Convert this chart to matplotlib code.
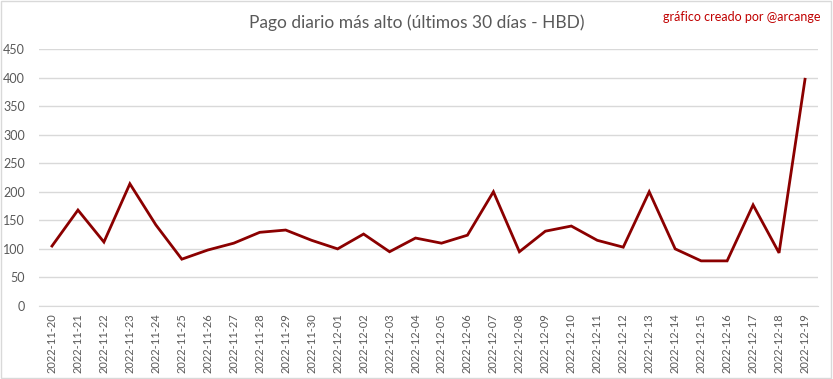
import matplotlib.pyplot as plt
import matplotlib.patches as mpatches

# fechas y pago diario mas alto (HBD)
dates = ["2022-11-20", "2022-11-21", "2022-11-22", "2022-11-23", "2022-11-24",
         "2022-11-25", "2022-11-26", "2022-11-27", "2022-11-28", "2022-11-29",
         "2022-11-30", "2022-12-01", "2022-12-02", "2022-12-03", "2022-12-04",
         "2022-12-05", "2022-12-06", "2022-12-07", "2022-12-08", "2022-12-09",
         "2022-12-10", "2022-12-11", "2022-12-12", "2022-12-13", "2022-12-14",
         "2022-12-15", "2022-12-16", "2022-12-17", "2022-12-18", "2022-12-19"]
payout = [105, 168, 112, 214, 142, 82, 98, 110, 129, 133,
          115, 100, 126, 95, 119, 110, 124, 200, 95, 131,
          140, 115, 103, 200, 100, 79, 79, 177, 93, 397]
yticks = [0, 50, 100, 150, 200, 250, 300, 350, 400, 450]

plt.rcParams['font.family'] = ['Lato', 'DejaVu Sans']

fig = plt.figure(figsize=(8.33, 3.79), dpi=100)
ax = fig.add_axes([39 / 833, 73 / 379, 779 / 833, 257 / 379])

x = list(range(len(dates)))
ax.plot(x, payout, color='#8B0000', linewidth=2, solid_joinstyle='miter')

ax.set_xlim(-0.5, len(dates) - 0.5)
ax.set_ylim(0, 450)
ax.set_yticks(yticks)
ax.set_xticks(x)
ax.set_xticklabels(dates, rotation=90, fontsize=8)
ax.grid(axis='y', color='#D9D9D9', linewidth=1)
ax.set_axisbelow(True)
for s in ['top', 'right', 'left']:
    ax.spines[s].set_visible(False)
ax.spines['bottom'].set_color('#D9D9D9')
ax.tick_params(axis='both', length=0, colors='#595959')
ax.tick_params(axis='y', pad=10, labelsize=9)
ax.tick_params(axis='x', pad=5)

fig.text(0.5, 0.94, 'Pago diario más alto (últimos 30 días - HBD)',
         ha='center', va='center', fontsize=12.5, color='#595959')
fig.text(0.985, 0.955, 'gráfico creado por @arcange', ha='right', va='center',
         fontsize=9, color='#C00000')

# borde de la figura
fig.patches.append(mpatches.Rectangle((0.001, 0.002), 0.997, 0.995, transform=fig.transFigure,
                                      fill=False, edgecolor='#D9D9D9', linewidth=1))

fig.savefig('out.png', dpi=100)
